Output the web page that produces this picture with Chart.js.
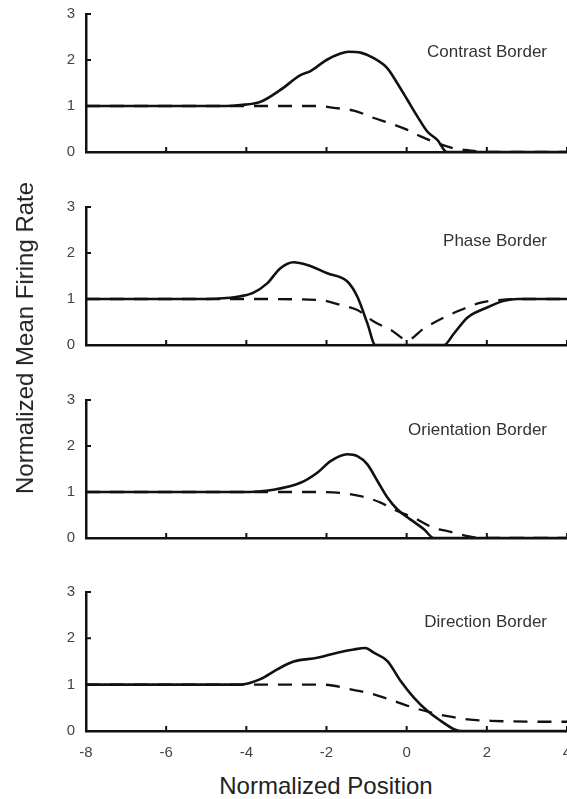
<!DOCTYPE html>
<html>
<head>
<meta charset="utf-8">
<script src="https://cdn.jsdelivr.net/npm/chart.js@4.4.1/dist/chart.umd.min.js"></script>
<style>
  html, body { margin: 0; padding: 0; background: #fff; overflow: hidden; }
  #wrap { position: relative; width: 567px; height: 799px; }
  #wrap canvas { position: absolute; left: 0; }
  .titulo { position: absolute; font: 24px "Liberation Sans", Arial, sans-serif; color: #222; white-space: nowrap; }
  #ytitulo { left: 25px; top: 338px; transform: translate(-50%, -50%) rotate(-90deg); }
  #xtitulo { left: 326px; top: 786px; transform: translate(-50%, -50%); }
</style>
</head>
<body>
<div id="wrap">
  <canvas id="panel0" width="567" height="158" style="top:4px"></canvas>
  <canvas id="panel1" width="567" height="158" style="top:197px"></canvas>
  <canvas id="panel2" width="567" height="158" style="top:390px"></canvas>
  <canvas id="panel3" width="567" height="189" style="top:582px"></canvas>
  <div class="titulo" id="ytitulo">Normalized Mean Firing Rate</div>
  <div class="titulo" id="xtitulo">Normalized Position</div>
</div>
<script>
// ejes
const xTicks = [-8, -6, -4, -2, 0, 2, 4];
const yTicks = [0, 1, 2, 3];

// Contrast Border
const contrastSolidX = [-8, -5, -4.5, -4.15, -3.65, -3.15, -2.65, -2.4, -2, -1.65, -1.45, -1.15, -0.82, -0.48, -0.23, 0.02, 0.27, 0.52, 0.77, 1.0, 1.5, 4];
const contrastSolid  = [1, 1, 1.0, 1.02, 1.09, 1.35, 1.67, 1.76, 2.0, 2.14, 2.18, 2.16, 2.04, 1.82, 1.49, 1.13, 0.77, 0.44, 0.26, 0, 0, 0];
const contrastDashX  = [-8, -4, -2.2, -1.82, -1.32, -0.82, -0.4, 0.02, 0.35, 0.68, 1.18, 1.6, 2.0, 4];
const contrastDash   = [1, 1, 1.0, 0.96, 0.9, 0.74, 0.62, 0.48, 0.34, 0.22, 0.08, 0.03, 0, 0];

// Phase Border
const phaseSolidX = [-8, -5, -4.5, -4.15, -3.82, -3.48, -3.15, -2.82, -2.48, -1.98, -1.48, -1.23, -0.98, -0.78, 0.93, 1.18, 1.52, 2.02, 2.43, 2.77, 4];
const phaseSolid  = [1, 1, 1.02, 1.06, 1.14, 1.34, 1.67, 1.8, 1.74, 1.56, 1.38, 1.05, 0.47, 0, 0, 0.25, 0.6, 0.82, 0.96, 1.0, 1.0];
const phaseDashX  = [-8, -4, -2.2, -1.65, -1.23, -0.82, -0.4, 0.02, 0.43, 0.93, 1.35, 1.85, 2.35, 2.8, 4];
const phaseDash   = [1, 1, 0.98, 0.87, 0.76, 0.51, 0.33, 0.11, 0.36, 0.6, 0.76, 0.92, 0.98, 1.0, 1.0];

// Orientation Border
const orientSolidX = [-8, -5, -4.15, -3.32, -2.65, -2.23, -1.9, -1.48, -1.23, -0.98, -0.73, -0.48, -0.23, 0.1, 0.43, 0.68, 1.2, 4];
const orientSolid  = [1, 1, 1.0, 1.05, 1.2, 1.42, 1.67, 1.82, 1.78, 1.6, 1.24, 0.88, 0.62, 0.4, 0.19, 0, 0, 0];
const orientDashX  = [-8, -4, -2.2, -1.65, -1.15, -0.65, -0.32, 0.18, 0.68, 1.02, 1.52, 1.85, 4];
const orientDash   = [1, 1, 1.0, 0.98, 0.91, 0.77, 0.62, 0.44, 0.22, 0.15, 0.04, 0, 0];

// Direction Border
const directionSolidX = [-8, -5, -4.15, -3.65, -3.23, -2.82, -2.23, -1.73, -1.32, -1.03, -0.82, -0.48, -0.15, 0.18, 0.52, 0.85, 1.18, 1.35, 4];
const directionSolid  = [1, 1, 1.0, 1.12, 1.33, 1.5, 1.58, 1.69, 1.76, 1.79, 1.69, 1.51, 1.08, 0.72, 0.43, 0.22, 0.04, 0, 0];
const directionDashX  = [-8, -4, -2.07, -1.4, -0.82, -0.32, 0.18, 0.6, 1.02, 1.52, 2.1, 3.35, 4];
const directionDash   = [1, 1, 1.0, 0.9, 0.79, 0.65, 0.5, 0.4, 0.32, 0.25, 0.22, 0.2, 0.2];

const paneles = [
  { nombre: 'Contrast Border',    sx: contrastSolidX,  sy: contrastSolid,  dx: contrastDashX,  dy: contrastDash,  etiquetaY: 2.17 },
  { nombre: 'Phase Border',       sx: phaseSolidX,     sy: phaseSolid,     dx: phaseDashX,     dy: phaseDash,     etiquetaY: 2.26 },
  { nombre: 'Orientation Border', sx: orientSolidX,    sy: orientSolid,    dx: orientDashX,    dy: orientDash,    etiquetaY: 2.35 },
  { nombre: 'Direction Border',   sx: directionSolidX, sy: directionSolid, dx: directionDashX, dy: directionDash, etiquetaY: 2.35 }
];

const FUENTE = '"Liberation Sans", Arial, sans-serif';
const puntos = (xs, ys) => xs.map((x, i) => ({ x: x, y: ys[i] }));

// marcas de los ejes hacia adentro + nombre del panel
const marcasYEtiqueta = {
  id: 'marcasYEtiqueta',
  afterDraw(chart, args, opts) {
    const { ctx, chartArea: a, scales: { x, y } } = chart;
    ctx.save();
    ctx.strokeStyle = '#111';
    ctx.lineWidth = 2;
    ctx.beginPath();
    xTicks.forEach(v => {
      const px = x.getPixelForValue(v);
      ctx.moveTo(px, a.bottom);
      ctx.lineTo(px, a.bottom - 5);
    });
    yTicks.forEach(v => {
      const py = y.getPixelForValue(v);
      ctx.moveTo(a.left, py);
      ctx.lineTo(a.left + 5, py);
    });
    ctx.stroke();

    ctx.fillStyle = '#333';
    ctx.font = '17px ' + FUENTE;
    ctx.textAlign = 'right';
    ctx.textBaseline = 'middle';
    ctx.fillText(opts.texto, a.right - 20, y.getPixelForValue(opts.valorY));
    ctx.restore();
  }
};

paneles.forEach((p, i) => {
  const ultimo = i === paneles.length - 1;
  const ctx = document.getElementById('panel' + i).getContext('2d');
  new Chart(ctx, {
    type: 'line',
    data: {
      datasets: [
        {
          data: puntos(p.dx, p.dy),
          borderColor: '#111',
          borderWidth: 2.3,
          borderDash: [14, 10],
          pointRadius: 0,
          cubicInterpolationMode: 'monotone'
        },
        {
          data: puntos(p.sx, p.sy),
          borderColor: '#111',
          borderWidth: 2.6,
          pointRadius: 0,
          cubicInterpolationMode: 'monotone'
        }
      ]
    },
    options: {
      responsive: false,
      animation: false,
      devicePixelRatio: 1,
      layout: { padding: { top: 10, right: 0, bottom: 0, left: 0 } },
      plugins: {
        legend: { display: false },
        tooltip: { enabled: false },
        marcasYEtiqueta: { texto: p.nombre, valorY: p.etiquetaY }
      },
      scales: {
        x: {
          type: 'linear',
          min: -8,
          max: 4,
          grid: { display: false },
          border: { display: true, color: '#111', width: 2.5 },
          ticks: {
            display: ultimo,
            stepSize: 2,
            padding: 5,
            color: '#444',
            font: { family: FUENTE, size: 15 }
          },
          afterFit(scale) {
            scale.height = ultimo ? 40 : 10;
            scale.paddingLeft = 0;
            scale.paddingRight = 0;
          }
        },
        y: {
          min: 0,
          max: 3,
          grid: { display: false },
          border: { display: true, color: '#111', width: 2.5 },
          ticks: {
            stepSize: 1,
            padding: 3,
            color: '#444',
            font: { family: FUENTE, size: 15 }
          },
          afterFit(scale) {
            scale.width = 86;
            scale.paddingTop = 0;
            scale.paddingBottom = 0;
          }
        }
      }
    },
    plugins: [marcasYEtiqueta]
  });
});
</script>
</body>
</html>
